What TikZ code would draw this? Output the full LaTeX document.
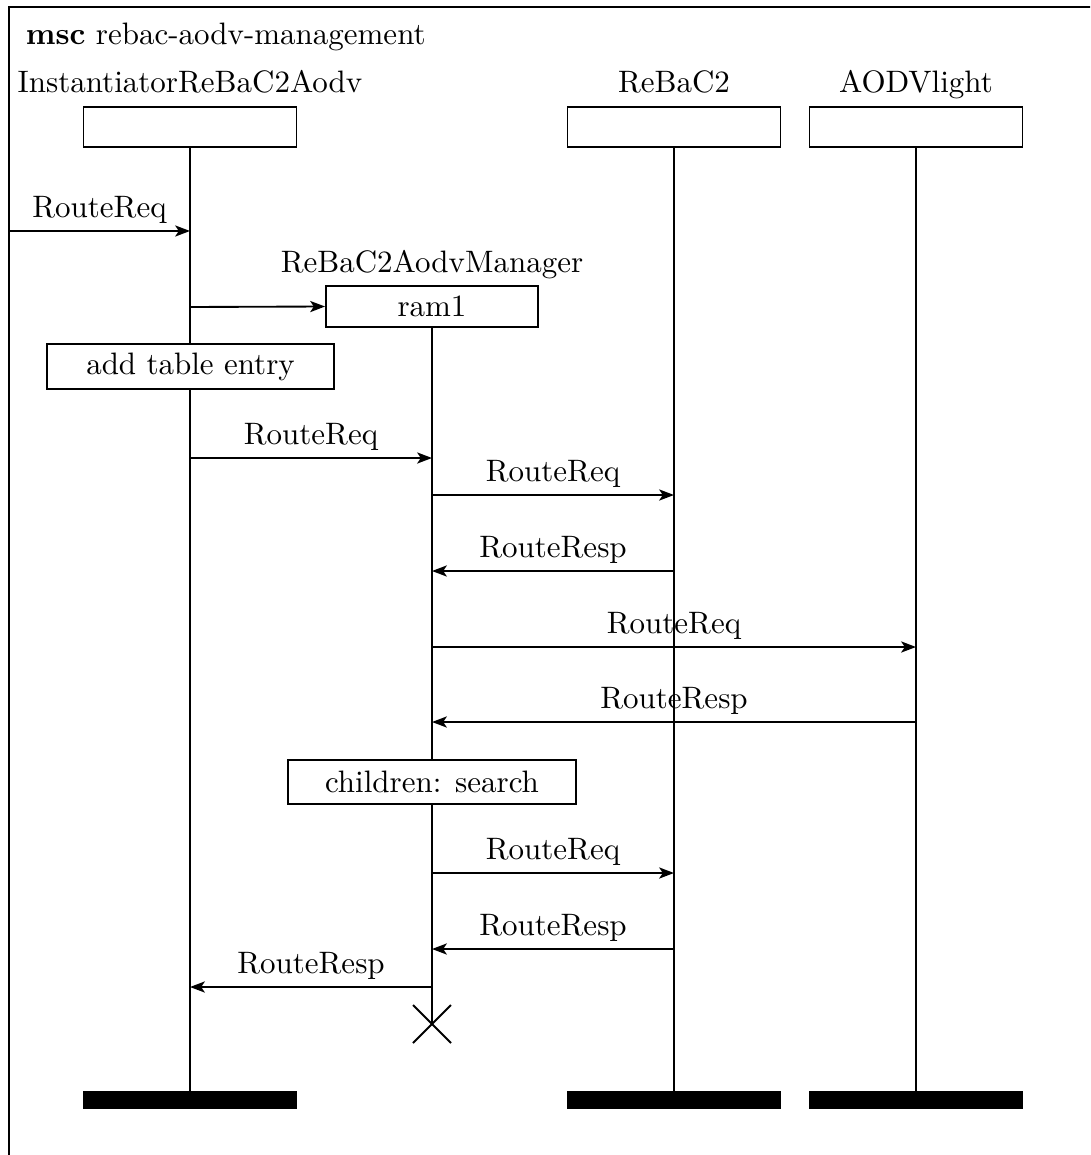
\documentclass[tikz,border=0pt]{standalone}
\usetikzlibrary{arrows.meta}
\begin{document}
\begin{tikzpicture}[x=0.3226pt,y=-0.3226pt,line width=0.6pt,
  instbox/.style={draw,fill=white,inner sep=0pt,minimum width=68.7pt,minimum height=12.9pt},
  endbar/.style={fill=black,draw=black,inner sep=0pt,minimum width=68.7pt,minimum height=5.2pt},
  actbox/.style={draw,fill=white,inner sep=0pt,minimum height=14.3pt},
  lbl/.style={anchor=base,inner sep=0pt},
  life/.style={line width=0.6pt},
  msg/.style={-{Stealth[length=4.8pt,width=3.6pt,inset=1.2pt]},line width=0.6pt},
  msgtxt/.style={midway,anchor=base,inner sep=0pt,yshift=4.2pt}]
\useasboundingbox (0,0) rectangle (1090,1155);
\clip (0,0) rectangle (1090,1155);
% diagram frame
\draw (9,7) rectangle (1110,1180);
\node[anchor=base west,inner sep=0pt] (title) at (25,45) {\textbf{msc} rebac-aodv-management};

% instance heads
\node[lbl] (n1) at (190,93) {InstantiatorReBaC2Aodv};
\node[lbl] (n3) at (674,93) {ReBaC2};
\node[lbl] (n4) at (916,93) {AODVlight};
\node[instbox] (h1) at (190,127) {};
\node[instbox] (h3) at (674,127) {};
\node[instbox] (h4) at (916,127) {};

% instance ends
\node[endbar] (e1) at (190,1100) {};
\node[endbar] (e3) at (674,1100) {};
\node[endbar] (e4) at (916,1100) {};

% lifelines
\draw[life] (h1.south) -- (e1.north);
\draw[life] (h3.south) -- (e3.north);
\draw[life] (h4.south) -- (e4.north);

% created instance
\node[lbl] (n2) at (432,273) {ReBaC2AodvManager};
\node[actbox,minimum width=68.4pt,minimum height=13.2pt] (h2) at (432,306.5) {ram1};
\coordinate (x2) at (432,1024);
\draw[life] (h2.south) -- (x2);
\draw (x2) ++(-19,-19) -- ++(38,38);
\draw (x2) ++(-19,19) -- ++(38,-38);

% actions
\node[actbox,minimum width=92.6pt] (a1) at (190.5,366.5) {add table entry};
\node[actbox,minimum width=92.9pt] (a2) at (432,782) {children: search};

% message end points
\coordinate (env) at (9,231);
\coordinate (m1) at (190,231);
\coordinate (c1) at (190,307);
\coordinate (m3a) at (190,458);  \coordinate (m3b) at (432,458);
\coordinate (m4a) at (432,495);  \coordinate (m4b) at (674,495);
\coordinate (m5a) at (674,571);  \coordinate (m5b) at (432,571);
\coordinate (m6a) at (432,647);  \coordinate (m6b) at (916,647);
\coordinate (m7a) at (916,722);  \coordinate (m7b) at (432,722);
\coordinate (m8a) at (432,873);  \coordinate (m8b) at (674,873);
\coordinate (m9a) at (674,949);  \coordinate (m9b) at (432,949);
\coordinate (m10a) at (432,987); \coordinate (m10b) at (190,987);

% messages
\draw[msg] (env) -- (m1) node[msgtxt] {RouteReq};
\draw[msg] (c1) -- (h2.west);
\draw[msg] (m3a) -- (m3b) node[msgtxt] {RouteReq};
\draw[msg] (m4a) -- (m4b) node[msgtxt] {RouteReq};
\draw[msg] (m5a) -- (m5b) node[msgtxt] {RouteResp};
\draw[msg] (m6a) -- (m6b) node[msgtxt] {RouteReq};
\draw[msg] (m7a) -- (m7b) node[msgtxt] {RouteResp};
\draw[msg] (m8a) -- (m8b) node[msgtxt] {RouteReq};
\draw[msg] (m9a) -- (m9b) node[msgtxt] {RouteResp};
\draw[msg] (m10a) -- (m10b) node[msgtxt] {RouteResp};
\end{tikzpicture}
\end{document}
